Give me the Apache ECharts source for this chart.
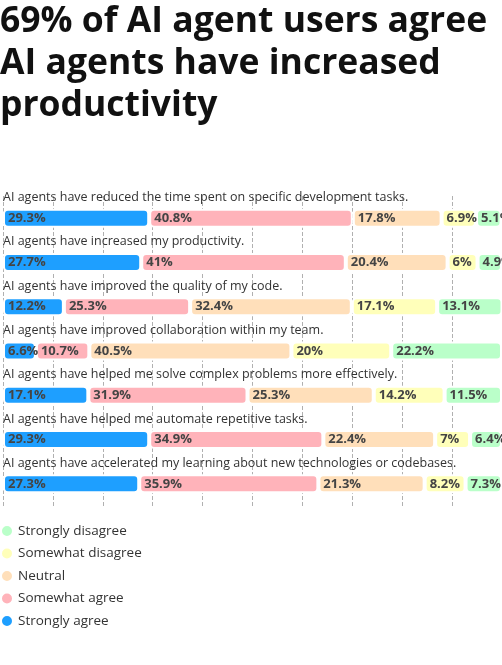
<!DOCTYPE html>
<html>
<head>
<meta charset="utf-8">
<script src="https://cdn.jsdelivr.net/npm/echarts@6/dist/echarts.min.js"></script>
<style>
  html, body { margin: 0; padding: 0; background: #fff; }
  #chart { width: 502px; height: 665px; }
</style>
</head>
<body>
<div id="chart"></div>
<script>
const statements = [
  'AI agents have reduced the time spent on specific development tasks.',
  'AI agents have increased my productivity.',
  'AI agents have improved the quality of my code.',
  'AI agents have improved collaboration within my team.',
  'AI agents have helped me solve complex problems more effectively.',
  'AI agents have helped me automate repetitive tasks.',
  'AI agents have accelerated my learning about new technologies or codebases.',
];
const stronglyAgree = [29.3, 27.7, 12.2, 6.6, 17.1, 29.3, 27.3];
const somewhatAgree = [40.8, 41, 25.3, 10.7, 31.9, 34.9, 35.9];
const neutral = [17.8, 20.4, 32.4, 40.5, 25.3, 22.4, 21.3];
const somewhatDisagree = [6.9, 6, 17.1, 20, 14.2, 7, 8.2];
const stronglyDisagree = [5.1, 4.9, 13.1, 22.2, 11.5, 6.4, 7.3];
const legendOrder = ['Strongly disagree', 'Somewhat disagree', 'Neutral', 'Somewhat agree', 'Strongly agree'];

const FONT = 'Open Sans';
const chart = echarts.init(document.getElementById('chart'));

const makeSeries = (name, data, color) => ({
  name,
  type: 'bar',
  stack: 'total',
  barWidth: 19,
  data,
  itemStyle: { color, borderColor: '#fff', borderWidth: 2, borderRadius: 4 },
  label: {
    show: true,
    position: 'insideLeft',
    distance: 5,
    formatter: (p) => p.value + '%',
    color: '#444',
    fontWeight: 'bold',
    fontSize: 13,
    fontFamily: FONT,
  },
  emphasis: { disabled: true },
});

chart.setOption({
  animation: false,
  title: {
    text: '69% of AI agent users agree\nAI agents have increased\nproductivity',
    left: 0,
    top: 1,
    padding: 0,
    textStyle: {
      fontFamily: FONT,
      fontWeight: 'bold',
      fontSize: 35.5,
      lineHeight: 42,
      color: '#111',
    },
  },
  legend: {
    data: legendOrder,
    orient: 'vertical',
    left: 0,
    top: 524,
    padding: 0,
    icon: 'circle',
    itemWidth: 12,
    itemHeight: 12,
    itemGap: 8.5,
    textStyle: { fontFamily: FONT, fontSize: 13.5, color: '#333' },
  },
  grid: { left: 1, right: 0, top: 196, height: 310 },
  xAxis: {
    type: 'value',
    min: 0,
    max: 100,
    interval: 10,
    axisLabel: { show: false },
    axisLine: { show: false },
    axisTick: { show: false },
    splitLine: { lineStyle: { type: 'dashed', color: '#b0b0b0' } },
  },
  yAxis: {
    type: 'category',
    inverse: true,
    data: statements,
    axisLine: { show: false },
    axisTick: { show: false },
    axisLabel: {
      inside: true,
      margin: 0,
      align: 'left',
      verticalAlign: 'bottom',
      padding: [0, 0, 14, 0],
      fontFamily: FONT,
      fontSize: 12.5,
      color: '#333',
    },
  },
  series: [
    makeSeries('Strongly agree', stronglyAgree, '#1e9fff'),
    makeSeries('Somewhat agree', somewhatAgree, '#ffb3ba'),
    makeSeries('Neutral', neutral, '#ffdfba'),
    makeSeries('Somewhat disagree', somewhatDisagree, '#ffffba'),
    makeSeries('Strongly disagree', stronglyDisagree, '#baffc9'),
  ],
});
</script>
</body>
</html>
